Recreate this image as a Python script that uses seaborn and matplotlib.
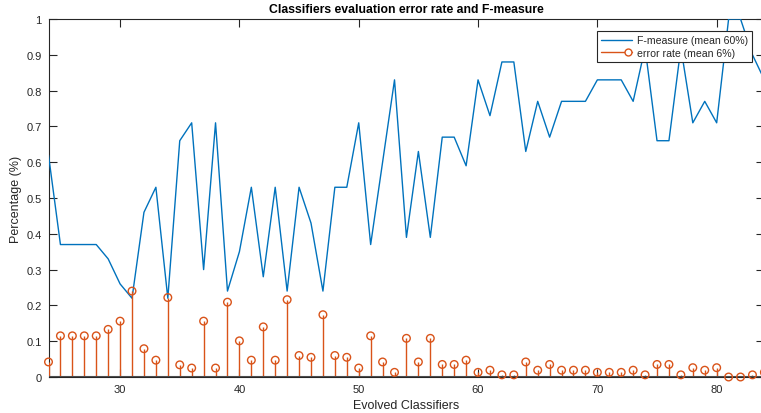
import matplotlib
matplotlib.use("Agg")
import matplotlib.pyplot as plt
import seaborn as sns
import numpy as np
import pandas as pd
from matplotlib.lines import Line2D
from matplotlib.legend_handler import HandlerLine2D
from matplotlib.ticker import FuncFormatter

# ---- data ----
classifiers = list(range(24, 85))
f_measure = [0.62, 0.37, 0.37, 0.37, 0.37, 0.33, 0.26, 0.22, 0.46, 0.53,
             0.22, 0.66, 0.71, 0.30, 0.71, 0.24, 0.35, 0.53, 0.28, 0.53,
             0.24, 0.53, 0.43, 0.24, 0.53, 0.53, 0.71, 0.37, 0.60, 0.83,
             0.39, 0.63, 0.39, 0.67, 0.67, 0.59, 0.83, 0.73, 0.88, 0.88,
             0.63, 0.77, 0.67, 0.77, 0.77, 0.77, 0.83, 0.83, 0.83, 0.77,
             0.92, 0.66, 0.66, 0.92, 0.71, 0.77, 0.71, 1.00, 1.00, 0.90,
             0.83]
error_rate = [0.042, 0.115, 0.115, 0.115, 0.115, 0.133, 0.156, 0.240, 0.079, 0.047,
              0.222, 0.034, 0.025, 0.156, 0.025, 0.209, 0.101, 0.047, 0.140, 0.047,
              0.216, 0.060, 0.055, 0.174, 0.060, 0.055, 0.025, 0.115, 0.042, 0.013,
              0.108, 0.042, 0.108, 0.035, 0.035, 0.047, 0.013, 0.019, 0.006, 0.006,
              0.042, 0.019, 0.035, 0.019, 0.019, 0.019, 0.013, 0.013, 0.013, 0.019,
              0.006, 0.035, 0.035, 0.006, 0.026, 0.019, 0.026, 0.000, 0.000, 0.006,
              0.013]
x_ticks = [30, 40, 50, 60, 70, 80]
y_ticks = [0, 0.1, 0.2, 0.3, 0.4, 0.5, 0.6, 0.7, 0.8, 0.9, 1.0]
title = "Classifiers evaluation error rate and F-measure"
f_label = "F-measure (mean 60%)"
e_label = "error rate (mean 6%)"

df = pd.DataFrame({"x": classifiers, "f": f_measure, "e": error_rate})

BLUE = "#0072BD"
ORANGE = "#D95319"
AXC = "#262626"

sns.set_style("white")
plt.rcParams['font.family'] = ['Liberation Sans', 'DejaVu Sans']


class HandlerStem(HandlerLine2D):
    def create_artists(self, legend, orig_handle, xdescent, ydescent,
                       width, height, fontsize, trans):
        y = height / 2 - ydescent
        line = Line2D([-xdescent, width - xdescent], [y, y],
                      color=orig_handle.get_color(), linewidth=orig_handle.get_linewidth())
        mk = Line2D([width - xdescent - 3], [y], linestyle="none", marker="o",
                    markersize=orig_handle.get_markersize(), markerfacecolor="white",
                    markeredgecolor=orig_handle.get_color(), markeredgewidth=1.0)
        line.set_transform(trans)
        mk.set_transform(trans)
        return [line, mk]


fig = plt.figure(figsize=(7.61, 4.14), dpi=100)
ax = fig.add_axes([48.5 / 761, 36 / 414, 715.9 / 761, 358 / 414])

sns.lineplot(data=df, x="x", y="f", ax=ax, color=BLUE, linewidth=1.0, zorder=3)

ax.vlines(df["x"], 0, df["e"], color=ORANGE, linewidth=1.0, zorder=4)
sns.scatterplot(data=df, x="x", y="e", ax=ax, marker="o", s=30,
                facecolor="none", edgecolor=ORANGE, linewidth=1.0,
                zorder=5, clip_on=False)
ax.axhline(0, color="#4d4d4d", linewidth=1.5, zorder=4)

ax.set_xlim(24, 84)
ax.set_ylim(0, 1)
ax.set_xticks(x_ticks)
ax.set_yticks(y_ticks)
ax.yaxis.set_major_formatter(FuncFormatter(lambda v, p: f"{v:g}"))
ax.tick_params(direction="in", length=6, width=0.8, color=AXC, labelcolor=AXC,
               labelsize=8, top=True, right=True, bottom=True, left=True, pad=5)
for s in ax.spines.values():
    s.set_color(AXC)
    s.set_linewidth(0.8)

ax.set_title(title, fontsize=8.8, fontweight="bold", color="black", pad=5)
ax.set_xlabel("Evolved Classifiers", fontsize=9, color=AXC, labelpad=4)
ax.set_ylabel("Percentage (%)", fontsize=9, color=AXC, labelpad=3)

h1 = Line2D([], [], color=BLUE, linewidth=1.0)
h2 = Line2D([], [], color=ORANGE, linewidth=1.0, marker="o", markersize=5)
leg = ax.legend([h1, h2], [f_label, e_label], loc="upper right",
                bbox_to_anchor=((752 - 48.5) / 715.9, 0.9665), borderaxespad=0,
                fontsize=7.6, handlelength=3.0, handletextpad=0.4,
                borderpad=0.4, labelspacing=0.28, fancybox=False, framealpha=1,
                edgecolor=AXC, handler_map={h2: HandlerStem()})
leg.get_frame().set_linewidth(0.8)
for t in leg.get_texts():
    t.set_color(AXC)

fig.savefig("out.png", dpi=100)
